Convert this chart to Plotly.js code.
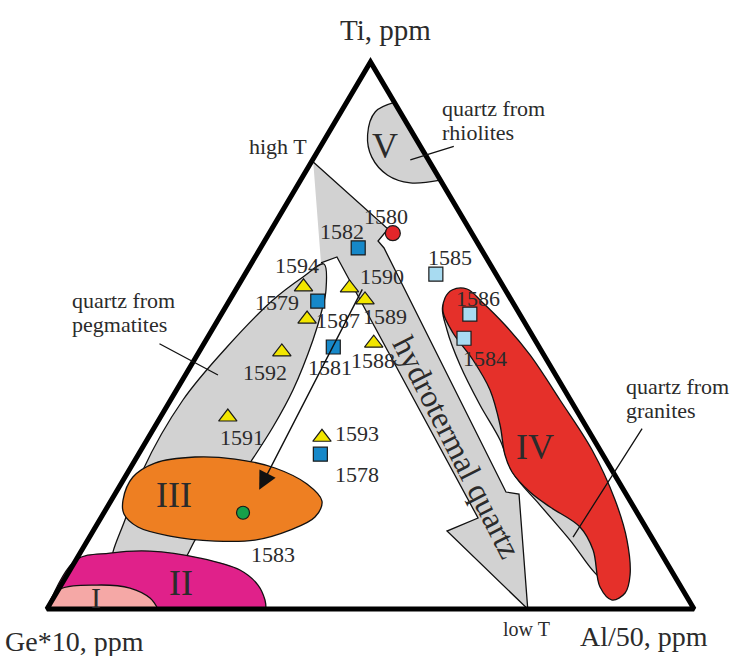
<!DOCTYPE html>
<html><head><meta charset="utf-8">
<script src="https://cdn.plot.ly/plotly-3.0.1.min.js"></script>
<style>html,body{margin:0;padding:0;background:#fff}#chart{width:737px;height:656px}</style>
</head><body><div id="chart"></div>
<script>
// ===== DATA: ternary compositions in % (Ti, Al/50; Ge*10 = 100 - Ti - Al) =====
// yellow triangles
const triSamples = ['1594','1590','1589','1587','1588','1592','1591','1593'];
const triTi = [58.9, 58.7, 56.5, 53.0, 48.6, 47.0, 35.1, 31.4];
const triAl = [10.2, 17.4, 20.9, 13.7, 26.2, 12.8, 10.4, 26.8];
// dark blue squares
const sqSamples = ['1582','1579','1581','1578'];
const sqTi = [66.0, 56.3, 47.9, 28.3];
const sqAl = [15.1, 13.7, 20.3, 28.1];
// light blue squares
const lsqSamples = ['1585','1586','1584'];
const lsqTi = [61.2, 53.9, 49.5];
const lsqAl = [29.5, 38.4, 39.7];
// red circle and green circle
const redSamples = ['1580'];  const redTi = [68.7]; const redAl = [19.1];
const greenSamples = ['1583']; const greenTi = [17.6]; const greenAl = [21.5];

// fields
const fieldV_Ti = [92.6, 90.9, 86.7, 82.6, 79.3, 77.9, 78.4];
const fieldV_Al = [7.4, 5.3, 6.2, 8.9, 13.0, 17.2, 21.6];
const hydroTi = [81.7, 69.47, 67.28, 66.0, 21.39, 21.02, 0, 14.26, 16.64, 64.35, 63.26];
const hydroAl = [0.3, 17.97, 17.52, 19.09, 60.24, 62.44, 74.3, 54.69, 58.30, 12.64, 10.72];
const pegTi = [63.07,58.32,54.66,49.18,40.04,33.27,26.69,19.93,13.16,8.04,7.13,10.42,16.27,25.41,38.21,47.9,56.49,60.70,63.07];
const pegAl = [11.27,13.96,15.17,16.52,18.0,18.29,18.03,17.55,16.6,16.23,6.18,4.99,3.92,2.13,1.91,3.87,6.68,9.22,11.27];
const fieldIII_Ti = [19.93,24.13,26.69,27.79,27.42,25.78,22.85,19.74,16.82,14.44,12.61,12.43,13.35,14.99,17.37,19.93];
const fieldIII_Al = [1.79,1.22,3.34,8.97,15.35,22.35,28.76,32.63,33.01,30.34,25.84,19.75,12.34,6.56,3.22,1.79];
const fieldII_Ti = [0, 8.96, 10.24, 10.60, 9.32, 7.13, 4.39, 1.65, 0];
const fieldII_Al = [0, 0, 4.62, 10.62, 18.99, 26.26, 30.42, 32.87, 33.85];
const fieldI_Ti = [0, 3.47, 4.39, 3.84, 2.01, 0];
const fieldI_Al = [0, 0, 5.54, 10.91, 14.92, 17.16];
const graniteTi = [55.58,51.01,44.61,37.30,30.90,24.86,19.01,12.61,5.85,6.22,12.61,29.07,43.69,55.58,57.41,55.58];
const graniteAl = [33.42,36.32,41.53,48.27,54.57,59.59,66.69,74.52,82.54,83.29,79.93,66.3,51.26,38.36,34.82,33.42];
const fieldIV_Ti = [56.86,58.32,58.50,56.13,51.92,46.44,38.21,29.07,19.93,12.61,6.22,2.93,1.65,4.02,10.79,14.99,18.65,21.39,25.05,28.15,33.64,40.04,45.52,50.46,54.30,56.86];
const fieldIV_Al = [33.08,33.44,35.67,39.17,44.83,51.43,60.18,69.71,77.83,83.33,87.0,87.88,86.51,83.46,79.0,74.88,68.42,63.95,59.35,56.71,53.2,48.45,43.08,37.52,34.06,33.08];
// evolution arrow (from high-Ti pegmatite quartz to field III)
const arrowFromTi = 58.7, arrowFromAl = 19.5, arrowToTi = 21.8, arrowToAl = 21.9;
// triangle frame (edge midpoint start)
const frameTi = [0, 0, 100, 0, 0];
const frameAl = [50, 100, 0, 0, 50];

// ===== helpers =====
const X = (ti, al) => ti.map((t, i) => al[i] + t / 2);
const FONT = 'Liberation Serif';
const TXT = '#2b2b2b';
// pixel -> paper for layout text placement (plot area: x 34..707, y 51..620)
const P = (px, py) => ({x: (px - 34) / 673, y: (620 - py) / 569});

function field(ti, al, fill, shape) {
  return {type: 'scatter', mode: 'lines', x: X(ti, al), y: ti, fill: 'toself', fillcolor: fill,
    line: {color: '#111', width: 1.3, shape: shape || 'linear', smoothing: 1}, hoverinfo: 'skip'};
}
function pts(ti, al, sym, size, color) {
  return {type: 'scatter', mode: 'markers', x: X(ti, al), y: ti, cliponaxis: false,
    marker: {symbol: sym, size: size, color: color, line: {color: '#1a1a1a', width: 1.2}}, hoverinfo: 'skip'};
}

const traces = [
  field(hydroTi, hydroAl, '#d2d2d2', 'linear'),
  field(pegTi, pegAl, '#d2d2d2', 'spline'),
  field(fieldV_Ti, fieldV_Al, '#d2d2d2', 'spline'),
  field(graniteTi, graniteAl, '#d2d2d2', 'spline'),
  field(fieldIV_Ti, fieldIV_Al, '#e5302a', 'spline'),
  field(fieldIII_Ti, fieldIII_Al, '#ee7f22', 'spline'),
  field(fieldII_Ti, fieldII_Al, '#e0218a', 'spline'),
  field(fieldI_Ti, fieldI_Al, '#f5a8a6', 'spline'),
  pts(triTi, triAl, 'triangle-up', 16, '#f2e600'),
  pts(sqTi, sqAl, 'square', 14, '#1688c9'),
  pts(lsqTi, lsqAl, 'square', 14, '#a8dbf1'),
  pts(redTi, redAl, 'circle', 15, '#e3262a'),
  pts(greenTi, greenAl, 'circle', 13, '#17a04a'),
  {type: 'scatter', mode: 'lines', x: X(frameTi, frameAl), y: frameTi,
   line: {color: '#000', width: 5}, hoverinfo: 'skip'}
];

// sample label offsets in px (right, down)
const labelOffset = {
  '1580': [-7, -17], '1582': [-16, -16], '1585': [14, -17], '1594': [-7, -21],
  '1590': [33, -11], '1589': [20, 17], '1579': [-41, 1], '1587': [31, 1],
  '1581': [-3, 21], '1588': [-1, 17], '1592': [-17, 21], '1586': [8, -16],
  '1584': [21, 20], '1591': [14, 20], '1593': [35, -4], '1578': [37, 20], '1583': [30, 42]
};
const annotations = [];
function addLabels(ids, ti, al) {
  ids.forEach((id, i) => {
    const o = labelOffset[id];
    annotations.push({x: al[i] + ti[i] / 2, y: ti[i], xref: 'x', yref: 'y', text: id, showarrow: false,
      xanchor: 'center', yanchor: 'middle',
      xshift: o[0], yshift: -o[1], font: {family: FONT, size: 22, color: TXT}});
  });
}
addLabels(triSamples, triTi, triAl);
addLabels(sqSamples, sqTi, sqAl);
addLabels(lsqSamples, lsqTi, lsqAl);
addLabels(redSamples, redTi, redAl);
addLabels(greenSamples, greenTi, greenAl);

function txt(text, px, py, size, opts) {
  const p = P(px, py);
  annotations.push(Object.assign({x: p.x, y: p.y, xref: 'paper', yref: 'paper', text: text, showarrow: false,
    xanchor: 'center', yanchor: 'middle',
    font: {family: FONT, size: size, color: TXT}}, opts || {}));
}
// corner titles
txt('Ti, ppm', 385, 30, 29);
txt('Ge*10, ppm', 3, 641, 28, {xanchor: 'left'});
txt('Al/50, ppm', 578, 636, 28, {xanchor: 'left'});
txt('high T', 278, 146, 22);
txt('low T', 526, 629, 20);
// field descriptions
txt('quartz from', 440, 108, 22, {xanchor: 'left'});
txt('rhiolites', 440, 133, 22, {xanchor: 'left'});
txt('quartz from', 70, 300, 22, {xanchor: 'left'});
txt('pegmatites', 70, 324, 22, {xanchor: 'left'});
txt('quartz from', 624, 386, 22, {xanchor: 'left'});
txt('granites', 624, 410, 22, {xanchor: 'left'});
// roman numerals
txt('V', 385, 146, 36);
txt('IV', 535, 447, 36);
txt('III', 174, 495, 36);
txt('II', 181, 583, 36);
txt('I', 96, 597, 30);
txt('hydrotermal quartz', 457, 447, 32, {textangle: 63});

// leader lines
function leader(ti, al, ax, ay) {
  annotations.push({x: al + ti / 2, y: ti, xref: 'x', yref: 'y', ax: ax, ay: ay, text: '',
    showarrow: true, arrowhead: 0, arrowwidth: 1.3, arrowcolor: '#111', standoff: 0});
}
leader(82.1, 15.1, 45, -14);
leader(42.78, 5.04, -60, -32);
leader(13.16, 74.72, 70, -110);
// evolution arrow
annotations.push({x: arrowToAl + arrowToTi / 2, y: arrowToTi, xref: 'x', yref: 'y',
  ax: arrowFromAl + arrowFromTi / 2, ay: arrowFromTi, axref: 'x', ayref: 'y', text: '',
  showarrow: true, arrowhead: 2, arrowsize: 2.6, arrowwidth: 1.4, arrowcolor: '#111', standoff: 0});

const layout = {
  width: 737, height: 656, showlegend: false,
  margin: {l: 34, r: 30, t: 51, b: 36},
  paper_bgcolor: '#fff', plot_bgcolor: '#fff',
  xaxis: {range: [-2, 102], visible: false, fixedrange: true},
  yaxis: {range: [-2, 102], visible: false, fixedrange: true},
  annotations: annotations
};
Plotly.newPlot('chart', traces, layout, {staticPlot: true});
</script></body></html>
